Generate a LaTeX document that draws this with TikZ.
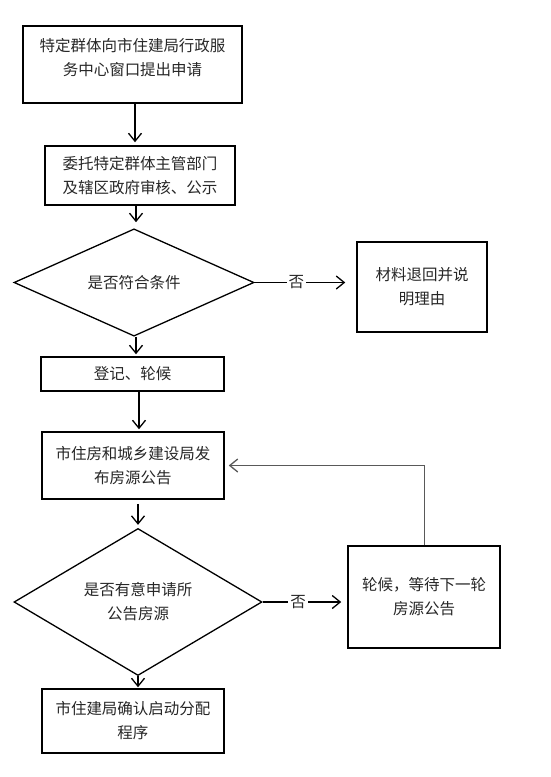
\documentclass[tikz,border=0pt]{standalone}
\usepackage{fontspec}
\newfontfamily\cjk{Noto Sans CJK SC}
\usetikzlibrary{shapes.geometric,arrows.meta}
\begin{document}
\begin{tikzpicture}[x=1pt,y=-1pt,
  txt/.style={font=\cjk\fontsize{15.5}{24}\selectfont,text=black!85,align=center,inner sep=0pt},
  box/.style={txt,draw=black,line width=1.5pt,rectangle},
  dia/.style={txt,draw=black,line width=1.3pt,diamond},
  arr/.style={line width=1.3pt,-{Straight Barb[length=8pt,width=13pt,line width=1.3pt]}},
  fb/.style={line width=1pt,draw=black!65,-{Straight Barb[length=8pt,width=13pt,line width=1.3pt]}},
  nolab/.style={txt,fill=white,inner sep=2pt}]
\useasboundingbox (0,0) rectangle (550,777);
% boxes
\node[box,minimum width=219pt,minimum height=77pt] (b1) at (132.5,64.5) {};
\node[txt] (t1) at (132.5,58) {特定群体向市住建局行政服\\务中心窗口提出申请};
\node[box,minimum width=190pt,minimum height=59pt] (b2) at (140,175.5) {委托特定群体主管部门\\及辖区政府审核、公示};
\node[dia,minimum width=240pt,minimum height=75pt] (d1) at (134,282.5) {是否符合条件};
\node[box,minimum width=130pt,minimum height=90pt] (b3) at (422,287) {材料退回并说\\明理由};
\node[box,minimum width=183pt,minimum height=34pt] (b4) at (132.5,374) {登记、轮候};
\node[box,minimum width=182pt,minimum height=67pt] (b5) at (133,465.5) {市住房和城乡建设局发\\布房源公告};
\node[dia,minimum width=248pt,minimum height=112pt] (d2) at (138,602) {是否有意申请所\\公告房源};
\node[box,minimum width=152pt,minimum height=102pt] (b6) at (424,597) {轮候，等待下一轮\\房源公告};
\node[box,minimum width=182pt,minimum height=64pt] (b7) at (133,721) {市住建局确认启动分配\\程序};
% column coordinates
\coordinate (c1) at (135,0);
\coordinate (c2) at (136,0);
\coordinate (c4) at (139,0);
\coordinate (c5) at (138,0);
% vertical arrows
\draw[arr,shorten >=3pt] (b1.south -| c1) -- (b2.north -| c1);
\draw[arr,shorten >=6pt] (b2.south -| c2) -- (d1.north -| c2);
\draw[arr,shorten >=2pt] (d1.south -| c2) -- (b4.north -| c2);
\draw[arr,shorten >=2pt] (b4.south -| c4) -- (b5.north -| c4);
\draw[arr,shorten <=4pt,shorten >=3pt] (b5.south -| c5) -- (d2.north -| c5);
\draw[arr,shorten >=1pt] (d2.south -| c5) -- (b7.north -| c5);
% no branches
\draw[arr,shorten >=11pt] (d1.east) -- node[nolab,pos=0.41] (n1) {否} (b3.west |- d1.east);
\draw[arr,shorten >=6pt] (d2.east) -- node[nolab,pos=0.42] (n2) {否} (b6.west |- d2.east);
% feedback
\draw[fb,shorten >=4pt] (b6.north) |- (b5.east);
\end{tikzpicture}
\end{document}
